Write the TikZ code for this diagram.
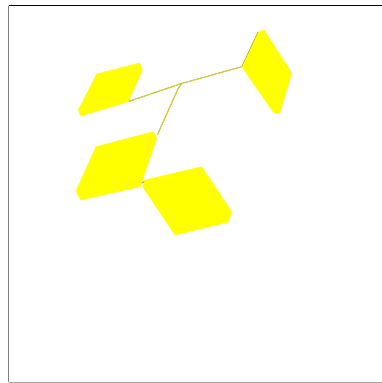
\documentclass[tikz,border=0pt]{standalone}
\begin{document}
\begin{tikzpicture}[x=1pt,y=-1pt,
  panel/.style={fill={rgb,1:red,1;green,1;blue,0},draw={rgb,1:red,1;green,1;blue,0},line width=0.4pt,line join=round},
  rod/.style={draw=yellow!55!black,line width=1pt},
  rodhi/.style={draw=yellow,line width=0.4pt}]
\useasboundingbox (0,0) rectangle (382,383);
% frame
\draw[black,line width=0.8pt] (8.5,5.5) -- (382,5.5);
\draw[gray,line width=1pt] (8.5,5.5) -- (8.5,382);
\draw[gray!70,line width=0.8pt] (8.5,382) -- (382,382);
% connectors
\coordinate (j) at (181.5,83.5);
\coordinate (p1) at (128.5,101.5);
\coordinate (p2) at (241.7,66.7);
\coordinate (p3) at (157.5,134.5);
\coordinate (p3b) at (140,183.5);
\coordinate (p4) at (146,181);
\draw[rod] (p1) -- (j) -- (p2);
\draw[rodhi] (p1) -- (j) -- (p2);
\draw[rod] (j) -- (178,89) -- (p3);
\draw[rodhi] (j) -- (178,89) -- (p3);
\draw[rod] (p3b) -- (p4);
% panels
\filldraw[panel] (96.7,74) -- (139.5,63) -- (142.3,70) -- (128.3,101.7) -- (80.7,116) -- (78.3,110) -- cycle;
\filldraw[panel] (258,32) -- (264,30) -- (291.7,73) -- (280,112.5) -- (274,113) -- (241.7,66.7) -- cycle;
\filldraw[panel] (96,146.7) -- (153.3,131.7) -- (156.7,138.3) -- (140,186.7) -- (80.7,200) -- (76,191) -- cycle;
\filldraw[panel] (145,180) -- (201.7,166.7) -- (231.7,211.7) -- (228.3,222) -- (175,235) -- (142.7,186.7) -- cycle;
\draw[yellow!60!black,line width=0.5pt] (258,32) -- (241.7,66.7);
\end{tikzpicture}
\end{document}
